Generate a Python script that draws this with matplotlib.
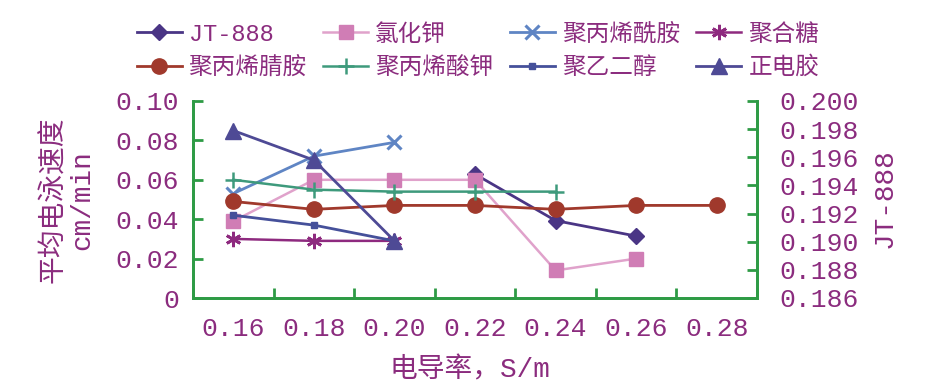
import numpy as np
import matplotlib
matplotlib.use("Agg")
import matplotlib.pyplot as plt
from matplotlib.ticker import FixedLocator, FixedFormatter

nan = np.nan
categories = ['0.16', '0.18', '0.20', '0.22', '0.24', '0.26', '0.28']
jt888 = [nan, nan, nan, 0.1948, 0.1915, 0.1904, nan]
kcl = [0.039, 0.060, 0.060, 0.060, 0.014, 0.020, nan]
pam = [0.053, 0.072, 0.079, nan, nan, nan, nan]
polysugar = [0.030, 0.029, 0.029, nan, nan, nan, nan]
pan = [0.049, 0.045, 0.047, 0.047, 0.045, 0.047, 0.047]
kpa = [0.060, 0.055, 0.054, 0.054, 0.054, nan, nan]
peg = [0.042, 0.037, 0.029, nan, nan, nan, nan]
mmh = [0.085, 0.070, 0.029, nan, nan, nan, nan]

left_ticks = [0, 0.02, 0.04, 0.06, 0.08, 0.10]
left_labels = ['0', '0.02', '0.04', '0.06', '0.08', '0.10']
right_ticks = [0.186, 0.188, 0.190, 0.192, 0.194, 0.196, 0.198, 0.200]
right_labels = ['0.186', '0.188', '0.190', '0.192', '0.194', '0.196', '0.198', '0.200']

FAM = ['Liberation Mono', 'Noto Sans CJK SC']
plt.rcParams['font.family'] = FAM
TXT = '#8B2C7E'
GREEN = '#2E9B45'

fig = plt.figure(figsize=(9.32, 3.92), dpi=100)
ax = fig.add_axes([193/932, 1-298/392, (757-193)/932, (298-101)/392])
ax2 = ax.twinx()
ax.set_zorder(ax2.get_zorder() + 1)
ax.patch.set_visible(False)

x = np.arange(len(categories))

h_jt, = ax2.plot(x, jt888, color='#4A3585', lw=2, marker='D', ms=8, label='JT-888')
h_kcl, = ax.plot(x, kcl, color='#E0A2CB', lw=1.8, marker='s', ms=10, mfc='#D07DB5', mec='#D07DB5', label='氯化钾')
h_pam, = ax.plot(x, pam, color='#5F85C4', lw=2, marker='x', ms=10, mew=2.2, label='聚丙烯酰胺')
h_ps, = ax.plot(x, polysugar, color='#8E2A7F', lw=1.8, marker=(6, 2, 0), ms=11, mew=2, label='聚合糖')
h_pan, = ax.plot(x, pan, color='#A0392C', lw=2, marker='o', ms=11, label='聚丙烯腈胺')
h_kpa, = ax.plot(x, kpa, color='#3E9A7C', lw=1.8, marker='+', ms=11, mew=1.8, label='聚丙烯酸钾')
h_peg, = ax.plot(x, peg, color='#45509A', lw=2, marker='s', ms=5, label='聚乙二醇')
h_mmh, = ax.plot(x, mmh, color='#4E4A95', lw=2, marker='^', ms=12, label='正电胶')

ax.set_xlim(-0.5, len(categories) - 0.5)
ax.set_ylim(0, 0.10)
ax2.set_ylim(0.186, 0.200)

for a in (ax, ax2):
    a.spines['top'].set_visible(False)
    for s in ('left', 'right', 'bottom'):
        a.spines[s].set_color(GREEN)
        a.spines[s].set_linewidth(2)

ax.set_xticks(x)
ax.set_xticklabels(categories)
ax.xaxis.set_minor_locator(FixedLocator(np.arange(-0.5, len(categories), 1.0)))
ax.tick_params(axis='x', which='major', length=0, pad=14, labelsize=19, labelcolor=TXT)
ax.tick_params(axis='x', which='minor', length=7, width=2, direction='in', color=GREEN)

ax.yaxis.set_major_locator(FixedLocator(left_ticks))
ax.yaxis.set_major_formatter(FixedFormatter(left_labels))
ax.tick_params(axis='y', length=7, width=2, direction='in', color=GREEN, labelsize=19,
               labelcolor=TXT, pad=10)

ax2.yaxis.set_major_locator(FixedLocator(right_ticks))
ax2.yaxis.set_major_formatter(FixedFormatter(right_labels))
ax2.tick_params(axis='y', length=7, width=2, direction='in', color=GREEN, labelsize=19,
                labelcolor=TXT, pad=16)

fig.text(470/932, 1-370/392, '电导率，S/m', ha='center', va='center', fontsize=20, color=TXT)
fig.text(68/932, 1-200/392, '平均电泳速度\ncm/min', ha='center', va='center', rotation=90,
         fontsize=20, color=TXT, linespacing=1.15)
fig.text(885/932, 1-198/392, 'JT-888', ha='center', va='center', rotation=90,
         fontsize=20, color=TXT)

handles = [h_jt, h_pan, h_kcl, h_kpa, h_pam, h_peg, h_ps, h_mmh]
fig.legend(handles=handles, labels=[h.get_label() for h in handles], ncol=4,
           loc='upper center', bbox_to_anchor=(478/932, 1-6/392), frameon=False,
           fontsize=17, labelcolor=TXT, handlelength=1.9, handletextpad=0.3,
           columnspacing=0.7, labelspacing=0.45, borderpad=0.2)

fig.savefig('out.png', dpi=100)
